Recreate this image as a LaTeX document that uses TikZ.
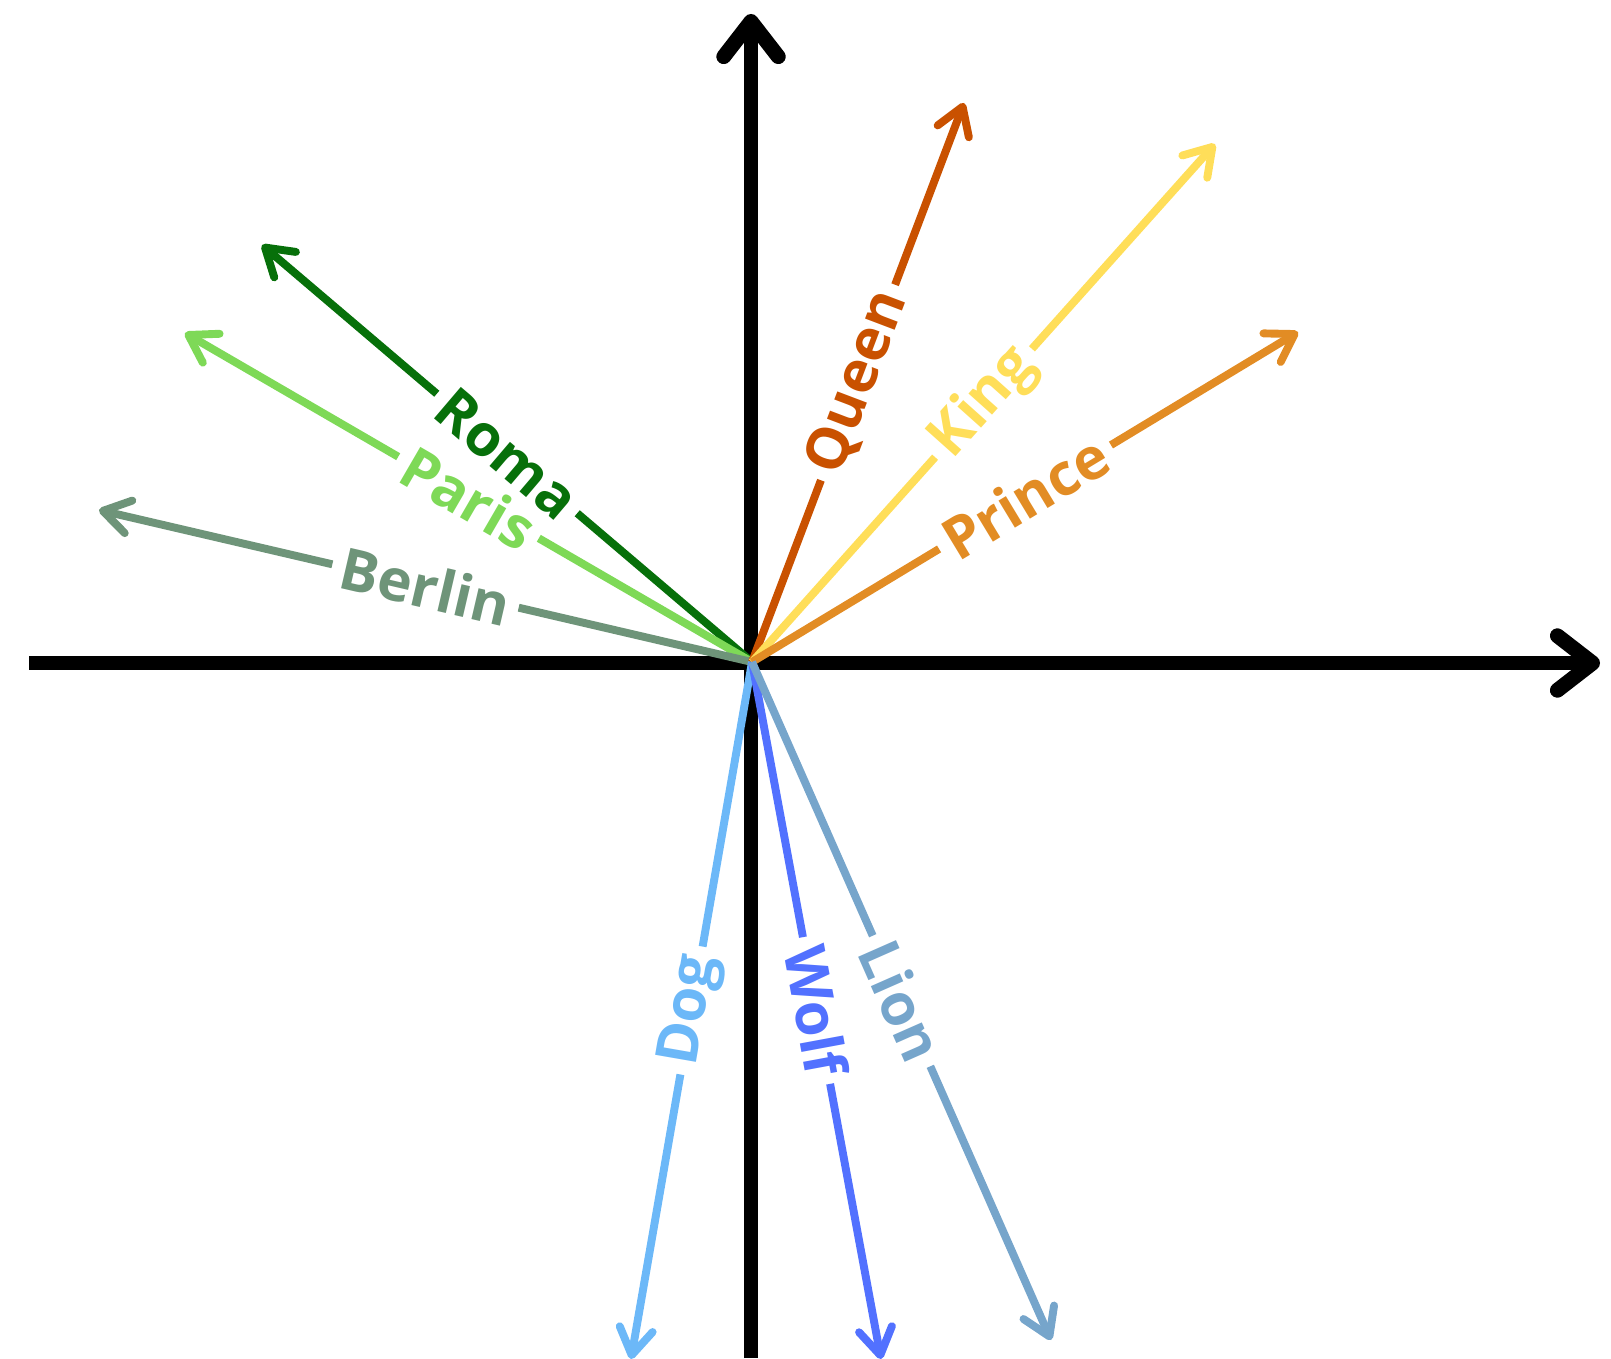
\documentclass[tikz,border=0pt]{standalone}
\usepackage{fontspec}
\setmainfont{Open Sans}
\usepackage{xcolor}
\usepackage{tikz}
\usetikzlibrary{arrows.meta}

\definecolor{romagreen}{HTML}{07700A}
\definecolor{parisgreen}{HTML}{7ED957}
\definecolor{berlingrey}{HTML}{6E9479}
\definecolor{queenred}{HTML}{C95100}
\definecolor{kingyellow}{HTML}{FFDE59}
\definecolor{princeorange}{HTML}{E28C24}
\definecolor{dogblue}{HTML}{6CB8F8}
\definecolor{wolfblue}{HTML}{5271FF}
\definecolor{liongrey}{HTML}{76A5CB}

\begin{document}
\begin{tikzpicture}[x=0.02cm, y=-0.02cm,
        >={Straight Barb[round, length=15pt, width=19pt]},
        axis/.style={line width=8.5pt, -{Straight Barb[round, length=20pt, width=31pt]}},
        vec/.style={draw=#1, line width=4.5pt},
        lbl/.style={text=#1, midway, sloped, font=\bfseries\fontsize{33}{33}\selectfont, inner xsep=5pt, inner ysep=1pt}]

        \useasboundingbox (0,0) rectangle (1611,1358);

        % axes
        \coordinate (O) at (752,662);
        \coordinate (xL) at (29,663);
        \coordinate (xR) at (1600,663);
        \coordinate (yB) at (751,1358);
        \coordinate (yT) at (751,14);
        \draw[axis] (xL) -- (xR);
        \draw[axis] (yB) -- (yT);

        % vector tips
        \coordinate (romaT) at (262,245);
        \coordinate (parisT) at (185,333);
        \coordinate (berlinT) at (99,510);
        \coordinate (queenT) at (964,103);
        \coordinate (kingT) at (1215,144);
        \coordinate (princeT) at (1298,332);
        \coordinate (dogT) at (631,1359);
        \coordinate (wolfT) at (881,1359);
        \coordinate (lionT) at (1051,1340);

        % labels on the vectors
        \path (O) -- (romaT) node[lbl=romagreen] (roma) {Roma};
        \path (O) -- (parisT) node[lbl=parisgreen] (paris) {Paris};
        \path (O) -- (berlinT) node[lbl=berlingrey] (berlin) {Berlin};
        \path (O) -- (queenT) node[lbl=queenred] (queen) {Queen};
        \path (O) -- (kingT) node[lbl=kingyellow] (king) {King};
        \path (O) -- (princeT) node[lbl=princeorange] (prince) {Prince};
        \path (O) -- (dogT) node[lbl=dogblue] (dog) {Dog};
        \path (O) -- (wolfT) node[lbl=wolfblue] (wolf) {Wolf};
        \path (O) -- (lionT) node[lbl=liongrey] (lion) {Lion};

        \draw[vec=romagreen] (O) -- (roma);
        \draw[vec=romagreen, ->] (roma) -- (romaT);
        \draw[vec=parisgreen] (O) -- (paris);
        \draw[vec=parisgreen, ->] (paris) -- (parisT);
        \draw[vec=berlingrey] (O) -- (berlin);
        \draw[vec=berlingrey, ->] (berlin) -- (berlinT);
        \draw[vec=queenred] (O) -- (queen);
        \draw[vec=queenred, ->] (queen) -- (queenT);
        \draw[vec=kingyellow] (O) -- (king);
        \draw[vec=kingyellow, ->] (king) -- (kingT);
        \draw[vec=princeorange] (O) -- (prince);
        \draw[vec=princeorange, ->] (prince) -- (princeT);
        \draw[vec=dogblue] (O) -- (dog);
        \draw[vec=dogblue, ->] (dog) -- (dogT);
        \draw[vec=wolfblue] (O) -- (wolf);
        \draw[vec=wolfblue, ->] (wolf) -- (wolfT);
        \draw[vec=liongrey] (O) -- (lion);
        \draw[vec=liongrey, ->] (lion) -- (lionT);
\end{tikzpicture}
\end{document}
